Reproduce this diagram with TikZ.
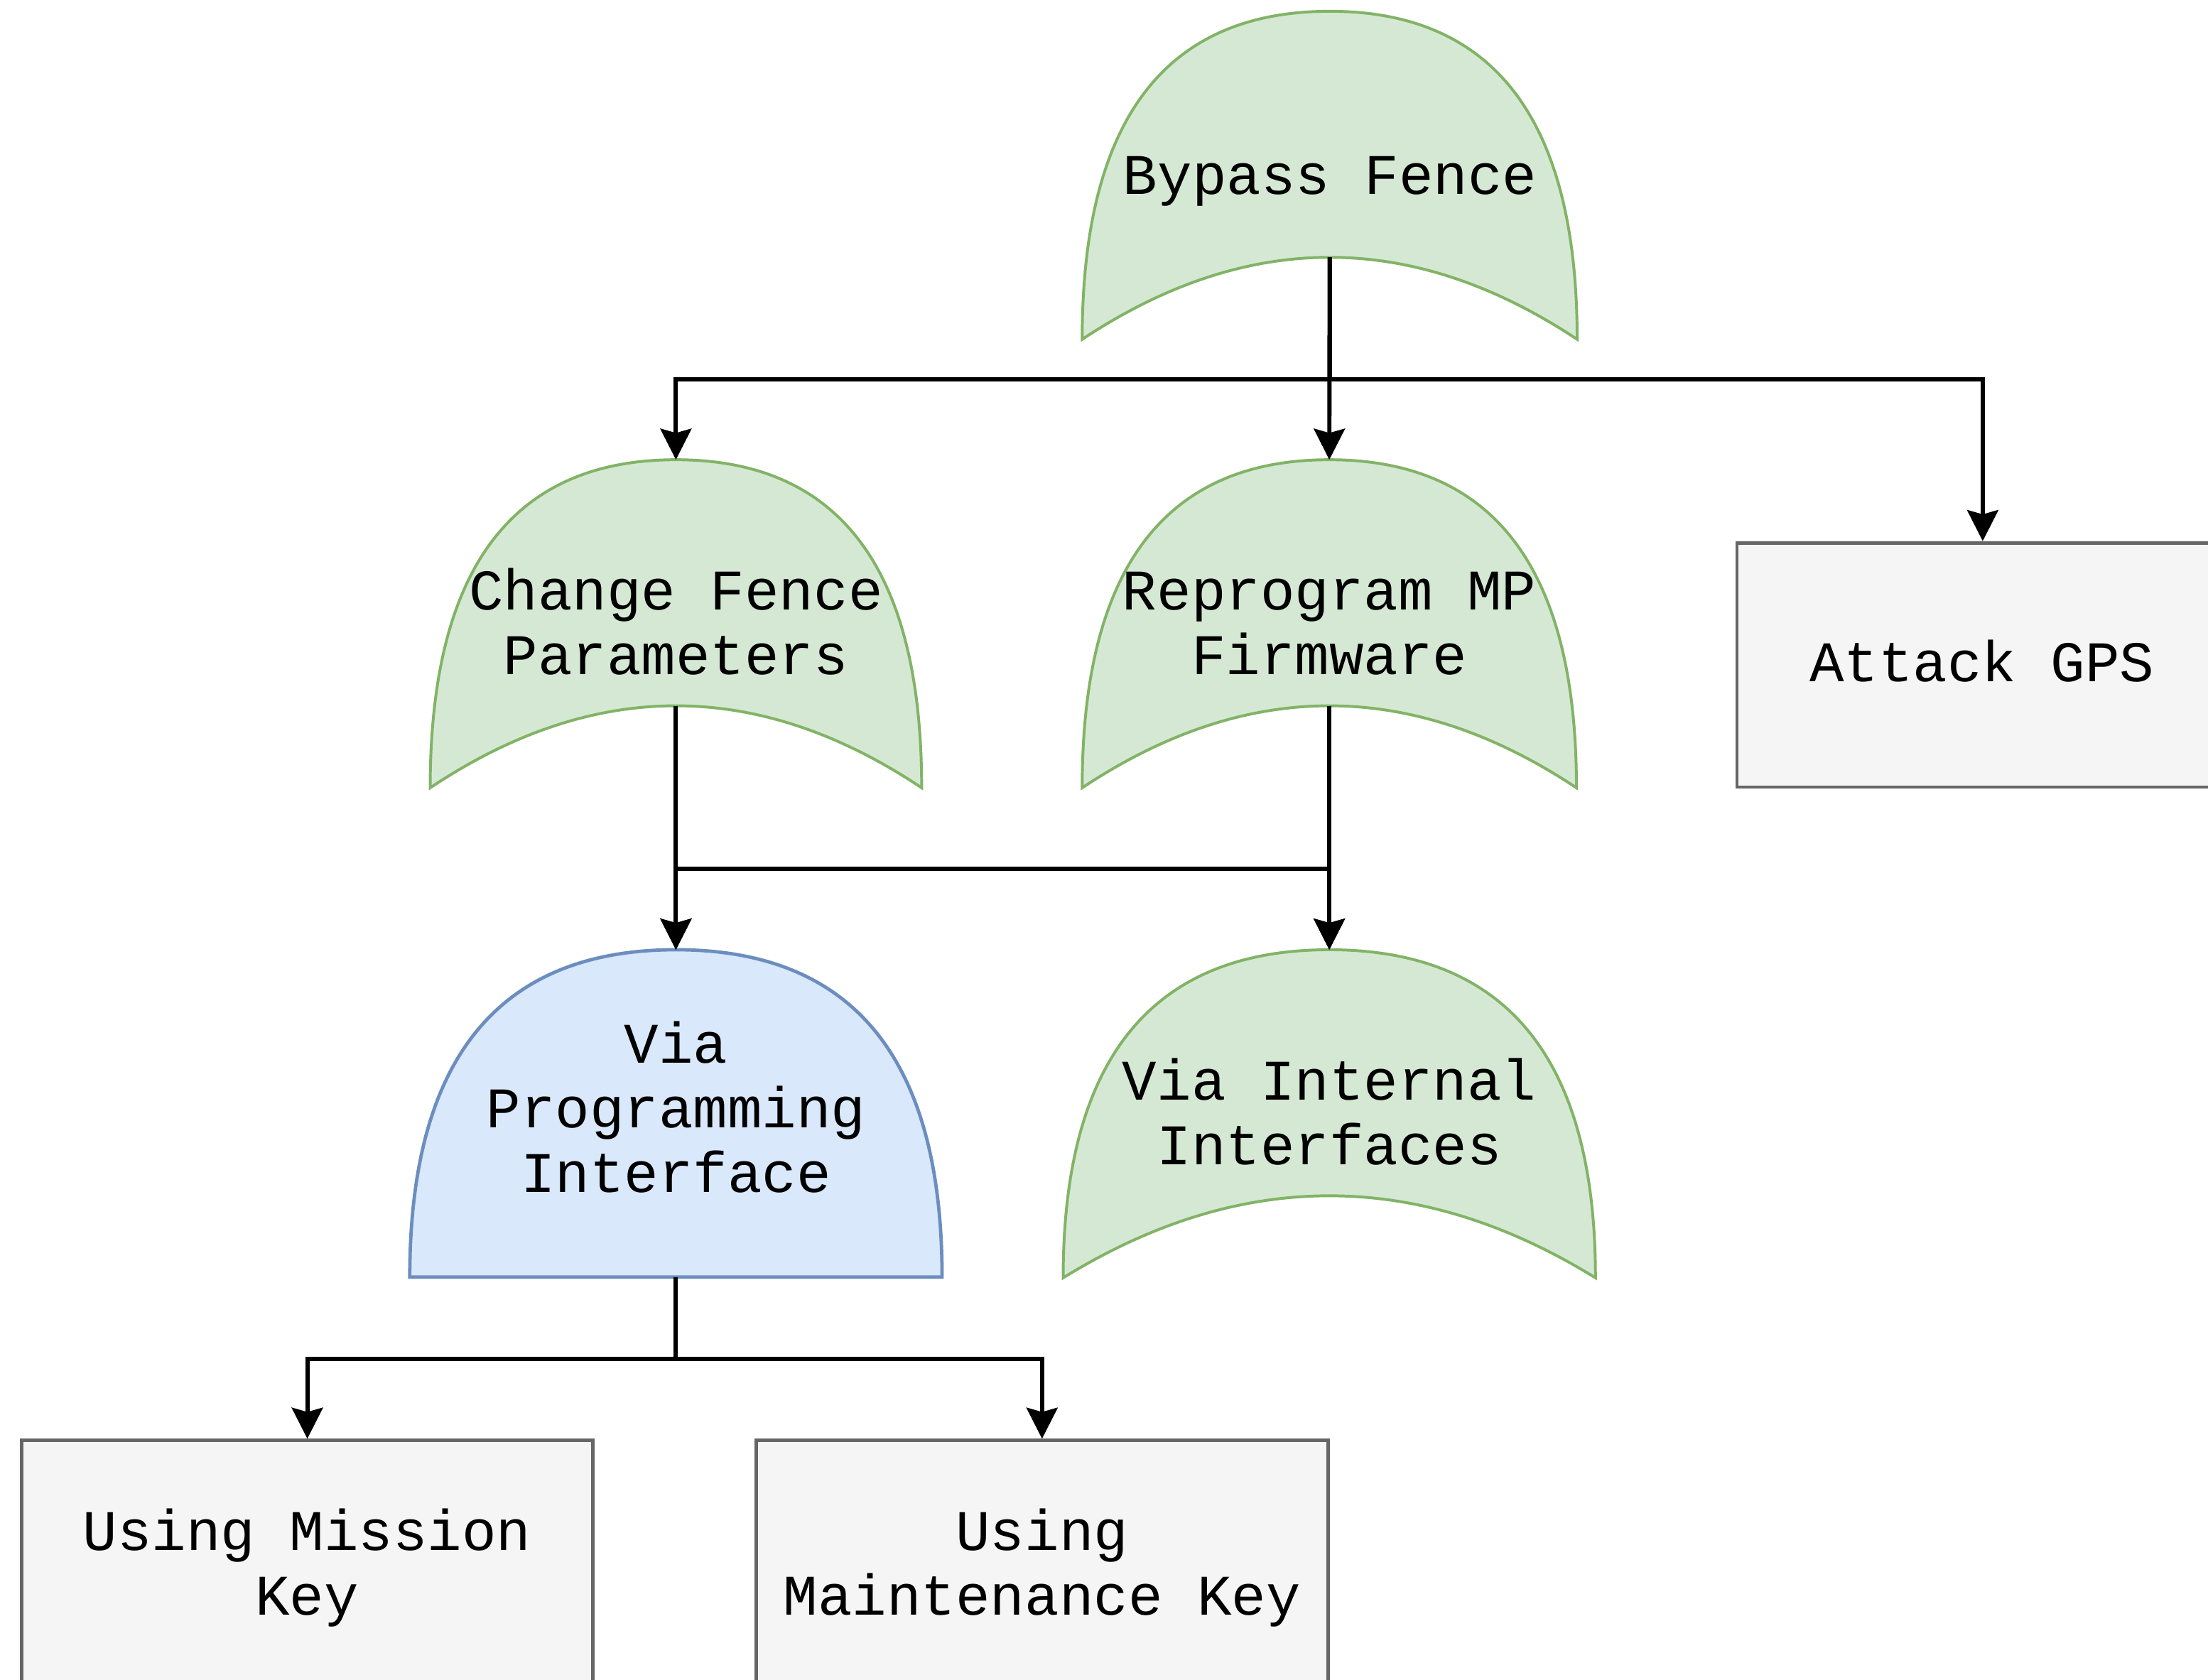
\documentclass[tikz,border=0pt]{standalone}
\usepackage{fontspec}
\usetikzlibrary{arrows.meta}

\newfontfamily\labelfamily{Liberation Mono}
\newcommand\labelsize{\labelfamily\fontsize{20.4pt}{23pt}\selectfont}
\newcommand\stack[1]{\begin{tabular}[t]{@{}c@{}}#1\end{tabular}}

\definecolor{greenfill}{HTML}{D5E8D4}
\definecolor{greenline}{HTML}{82B366}
\definecolor{bluefill}{HTML}{DAE8FC}
\definecolor{blueline}{HTML}{6C8EBF}
\definecolor{grayfill}{HTML}{F5F5F5}
\definecolor{grayline}{HTML}{666666}

% OR gate pointing up: name, style, left, top, right, bottom
\newcommand\orgate[6]{%
  \path[#2] (#3,#6)
    .. controls (#3,{#6-2/3*(#6-#4)}) and ({#3+(#5-#3)/6},#4) .. ({(#3+#5)/2},#4)
    .. controls ({#5-(#5-#3)/6},#4) and (#5,{#4+(#6-#4)/3}) .. (#5,#6)
    .. controls ({#5-(#5-#3)/3},{#6-(#6-#4)/3}) and ({#3+(#5-#3)/3},{#6-(#6-#4)/3}) .. (#3,#6)
    -- cycle;
  \coordinate (#1-in) at ({(#3+#5)/2},#4);
  \coordinate (#1-out) at ({(#3+#5)/2},{#6-(#6-#4)/4});
}
% AND gate pointing up: name, style, left, top, right, bottom
\newcommand\andgate[6]{%
  \path[#2] (#3,#6)
    .. controls (#3,{#6-2/3*(#6-#4)}) and ({#3+(#5-#3)/6},#4) .. ({(#3+#5)/2},#4)
    .. controls ({#5-(#5-#3)/6},#4) and (#5,{#4+(#6-#4)/3}) .. (#5,#6)
    -- cycle;
  \coordinate (#1-in) at ({(#3+#5)/2},#4);
  \coordinate (#1-out) at ({(#3+#5)/2},#6);
}

\begin{document}
\begin{tikzpicture}[x=0.5pt,y=-0.5pt,
  greengate/.style={fill=greenfill, draw=greenline, line width=1pt},
  bluegate/.style={fill=bluefill, draw=blueline, line width=1.2pt},
  graybox/.style={rectangle, fill=grayfill, draw=grayline, line width=1.2pt, inner sep=0pt},
  txt/.style={font=\labelsize, text=black, inner sep=0pt, anchor=base},
  conn/.style={draw=black, line width=1.5pt, line join=miter,
    -{Stealth[length=11pt,width=11pt,inset=1.5pt]}}]
\useasboundingbox (0,0) rectangle (1568,1193);
\clip (0,0) rectangle (1568,1193);
\fill[white] (0,0) rectangle (1568,1193);

% gates
\orgate{bf}{greengate}{768.5}{8}{1120}{241}
\orgate{cfp}{greengate}{305.5}{326.5}{654.5}{559.5}
\orgate{rmf}{greengate}{768.5}{326.5}{1119.5}{559.5}
\andgate{vpi}{bluegate}{291}{674.5}{669}{907}
\orgate{vii}{greengate}{755}{674.5}{1133}{907.5}

% leaf boxes
\node[graybox, minimum width=174.5pt, minimum height=86.75pt] (gps) at (1408,472.25) {};
\node[graybox, minimum width=202.75pt, minimum height=87pt] (umk) at (218.25,1110) {};
\node[graybox, minimum width=203pt, minimum height=87pt] (mnk) at (740,1110) {};

% labels
\node[txt] (bf) at (944.5,138) {Bypass Fence};
\node[txt] (cfp) at (480,433) {\stack{Change Fence\\Parameters}};
\node[txt] (rmf) at (944,433) {\stack{Reprogram MP\\Firmware}};
\node[txt] (gps-text) at (1407.5,484) {Attack GPS};
\node[txt] (vpi) at (480,755) {\stack{Via\\Programming\\Interface}};
\node[txt] (vii) at (944,781) {\stack{Via Internal\\Interfaces}};
\node[txt] (umk-text) at (218,1101) {\stack{Using Mission\\Key}};
\node[txt] (mnk-text) at (740,1101) {\stack{Using\\Maintenance Key}};

% bus levels of the orthogonal connectors
\coordinate (busA) at (0,269.5);
\coordinate (busB) at (0,617);
\coordinate (busC) at (0,965);

% connectors
\draw[conn] (bf-out) -- (rmf-in);
\draw[conn] (bf-out) |- (busA -| cfp-in) -- (cfp-in);
\draw[conn] (bf-out) |- (busA -| gps.north) -- (gps.north);
\draw[conn] (cfp-out) -- (vpi-in);
\draw[conn] (cfp-out) |- (busB -| vii-in) -- (vii-in);
\draw[conn] (rmf-out) -- (vii-in);
\draw[conn] (rmf-out) |- (busB -| vpi-in) -- (vpi-in);
\draw[conn] (vpi-out) |- (busC -| umk.north) -- (umk.north);
\draw[conn] (vpi-out) |- (busC -| mnk.north) -- (mnk.north);
\end{tikzpicture}
\end{document}
